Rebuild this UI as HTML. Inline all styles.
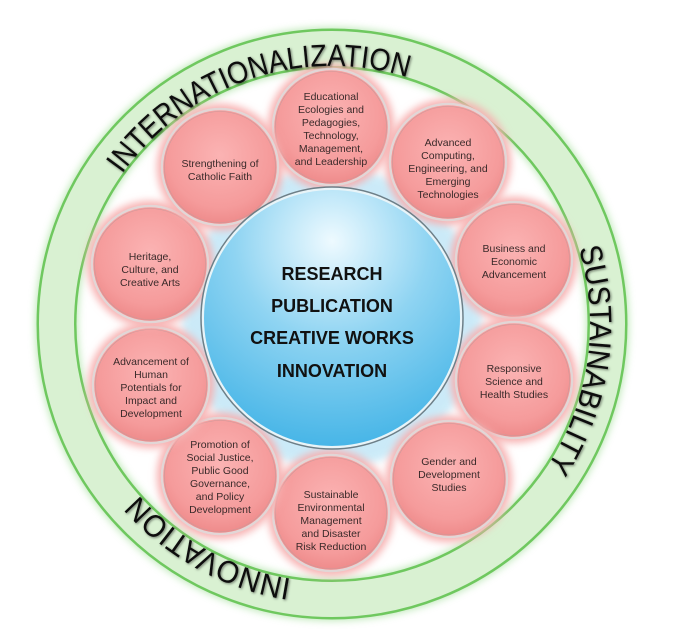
<!DOCTYPE html>
<html><head><meta charset="utf-8"><style>
html,body{margin:0;padding:0;background:#fff;}
svg{display:block;}
.pk{font-family:"Liberation Sans",sans-serif;font-size:10.5px;fill:#3a2a2a;text-anchor:middle;}
.ct{font-family:"Liberation Sans",sans-serif;font-size:18px;font-weight:bold;fill:#111;text-anchor:middle;}
.rg{font-family:"Liberation Sans",sans-serif;font-size:31px;fill:#111;}
</style></head><body>
<svg width="700" height="643" viewBox="0 0 700 643" xmlns="http://www.w3.org/2000/svg">
<defs>
<radialGradient id="pg" cx="50%" cy="40%" r="60%">
<stop offset="0" stop-color="#fbb3b3"/><stop offset="0.75" stop-color="#f59b9b"/><stop offset="1" stop-color="#ee8a8a"/>
</radialGradient>
<radialGradient id="bg" cx="50%" cy="20%" r="85%">
<stop offset="0" stop-color="#eefaff"/><stop offset="0.45" stop-color="#8fd4f2"/><stop offset="1" stop-color="#3fb2e6"/>
</radialGradient>
<filter id="blur" x="-30%" y="-30%" width="160%" height="160%"><feGaussianBlur stdDeviation="4"/></filter>
<filter id="sh" x="-10%" y="-10%" width="120%" height="120%"><feDropShadow dx="1" dy="1" stdDeviation="1.2" flood-color="#000" flood-opacity="0.5"/></filter>
<path id="rp" d="M74,324 A258,258 0 1,1 590,324 A258,258 0 1,1 74,324"/>
</defs>
<!-- ring -->
<circle cx="332" cy="324" r="275.5" fill="none" stroke="#8fd884" stroke-width="42" opacity="0.6" filter="url(#blur)"/>
<circle cx="332" cy="324" r="275.5" fill="none" stroke="#6fc85f" stroke-width="40"/>
<circle cx="332" cy="324" r="275.5" fill="none" stroke="#d9f1d2" stroke-width="35"/>
<!-- glow behind center -->
<circle cx="332" cy="318" r="150" fill="#bfe6f7" opacity="0.8" filter="url(#blur)"/>
<!-- pink circles -->
<g>
<g transform="translate(331,127)"><circle r="63" fill="#f7b0b0" filter="url(#blur)"/><circle r="58" fill="url(#pg)" stroke="#e2d6d6" stroke-width="2.5"/><circle r="55.5" fill="none" stroke="#c99" stroke-width="0.6"/>
<text class="pk" y="-27">Educational</text><text class="pk" y="-14">Ecologies and</text><text class="pk" y="-1">Pedagogies,</text><text class="pk" y="12">Technology,</text><text class="pk" y="25">Management,</text><text class="pk" y="38">and Leadership</text></g>
<g transform="translate(448,162)"><circle r="63" fill="#f7b0b0" filter="url(#blur)"/><circle r="58" fill="url(#pg)" stroke="#e2d6d6" stroke-width="2.5"/><circle r="55.5" fill="none" stroke="#c99" stroke-width="0.6"/>
<text class="pk" y="-16">Advanced</text><text class="pk" y="-3">Computing,</text><text class="pk" y="10">Engineering, and</text><text class="pk" y="23">Emerging</text><text class="pk" y="36">Technologies</text></g>
<g transform="translate(514,260)"><circle r="63" fill="#f7b0b0" filter="url(#blur)"/><circle r="58" fill="url(#pg)" stroke="#e2d6d6" stroke-width="2.5"/><circle r="55.5" fill="none" stroke="#c99" stroke-width="0.6"/>
<text class="pk" y="-8">Business and</text><text class="pk" y="5">Economic</text><text class="pk" y="18">Advancement</text></g>
<g transform="translate(514,380)"><circle r="63" fill="#f7b0b0" filter="url(#blur)"/><circle r="58" fill="url(#pg)" stroke="#e2d6d6" stroke-width="2.5"/><circle r="55.5" fill="none" stroke="#c99" stroke-width="0.6"/>
<text class="pk" y="-8">Responsive</text><text class="pk" y="5">Science and</text><text class="pk" y="18">Health Studies</text></g>
<g transform="translate(449,479)"><circle r="63" fill="#f7b0b0" filter="url(#blur)"/><circle r="58" fill="url(#pg)" stroke="#e2d6d6" stroke-width="2.5"/><circle r="55.5" fill="none" stroke="#c99" stroke-width="0.6"/>
<text class="pk" y="-14">Gender and</text><text class="pk" y="-1">Development</text><text class="pk" y="12">Studies</text></g>
<g transform="translate(331,513)"><circle r="63" fill="#f7b0b0" filter="url(#blur)"/><circle r="58" fill="url(#pg)" stroke="#e2d6d6" stroke-width="2.5"/><circle r="55.5" fill="none" stroke="#c99" stroke-width="0.6"/>
<text class="pk" y="-15">Sustainable</text><text class="pk" y="-2">Environmental</text><text class="pk" y="11">Management</text><text class="pk" y="24">and Disaster</text><text class="pk" y="37">Risk Reduction</text></g>
<g transform="translate(220,476)"><circle r="63" fill="#f7b0b0" filter="url(#blur)"/><circle r="58" fill="url(#pg)" stroke="#e2d6d6" stroke-width="2.5"/><circle r="55.5" fill="none" stroke="#c99" stroke-width="0.6"/>
<text class="pk" y="-28">Promotion of</text><text class="pk" y="-15">Social Justice,</text><text class="pk" y="-2">Public Good</text><text class="pk" y="11">Governance,</text><text class="pk" y="24">and Policy</text><text class="pk" y="37">Development</text></g>
<g transform="translate(151,385)"><circle r="63" fill="#f7b0b0" filter="url(#blur)"/><circle r="58" fill="url(#pg)" stroke="#e2d6d6" stroke-width="2.5"/><circle r="55.5" fill="none" stroke="#c99" stroke-width="0.6"/>
<text class="pk" y="-20">Advancement of</text><text class="pk" y="-7">Human</text><text class="pk" y="6">Potentials for</text><text class="pk" y="19">Impact and</text><text class="pk" y="32">Development</text></g>
<g transform="translate(150,264)"><circle r="63" fill="#f7b0b0" filter="url(#blur)"/><circle r="58" fill="url(#pg)" stroke="#e2d6d6" stroke-width="2.5"/><circle r="55.5" fill="none" stroke="#c99" stroke-width="0.6"/>
<text class="pk" y="-4">Heritage,</text><text class="pk" y="9">Culture, and</text><text class="pk" y="22">Creative Arts</text></g>
<g transform="translate(220,167)"><circle r="63" fill="#f7b0b0" filter="url(#blur)"/><circle r="58" fill="url(#pg)" stroke="#e2d6d6" stroke-width="2.5"/><circle r="55.5" fill="none" stroke="#c99" stroke-width="0.6"/>
<text class="pk" y="0">Strengthening of</text><text class="pk" y="13">Catholic Faith</text></g>
</g>
<!-- center -->
<circle cx="332" cy="318" r="131" fill="#e8f4f8" stroke="#6d7f88" stroke-width="1.5"/>
<circle cx="332" cy="318" r="128" fill="url(#bg)"/>
<text class="ct" x="332" y="280">RESEARCH</text>
<text class="ct" x="332" y="312">PUBLICATION</text>
<text class="ct" x="332" y="344">CREATIVE WORKS</text>
<text class="ct" x="332" y="377">INNOVATION</text>
<!-- ring labels -->
<g filter="url(#sh)">
<text class="rg"><textPath href="#rp" startOffset="19.8%" text-anchor="middle" textLength="322" lengthAdjust="spacingAndGlyphs">INTERNATIONALIZATION</textPath></text>
<text class="rg"><textPath href="#rp" startOffset="52.3%" text-anchor="middle" textLength="228" lengthAdjust="spacingAndGlyphs">SUSTAINABILITY</textPath></text>
<text class="rg"><textPath href="#rp" startOffset="83%" text-anchor="middle" textLength="178" lengthAdjust="spacingAndGlyphs">INNOVATION</textPath></text>
</g>
</svg>
</body></html>
